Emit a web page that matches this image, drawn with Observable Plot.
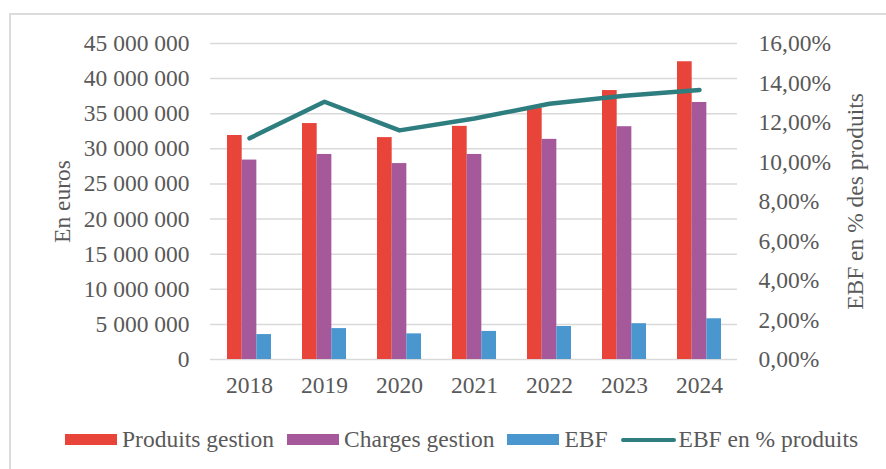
<!DOCTYPE html>
<html>
<head>
<meta charset="utf-8">
<script src="https://cdn.jsdelivr.net/npm/d3@7"></script>
<script src="https://cdn.jsdelivr.net/npm/@observablehq/plot@0.6"></script>
<style>
  body { margin: 0; background: #fff; }
  #wrap { position: relative; width: 886px; height: 469px; overflow: hidden; background: #fff;
          font-family: "Liberation Serif", "Times New Roman", serif; color: #595959; }
  #border { position: absolute; left: 9px; top: 13px; width: 1000px; height: 1000px;
            border-left: 2px solid #dcdcdc; border-top: 2px solid #dcdcdc; }
  #chart { position: absolute; left: 0; top: 0; }
  #legend { position: absolute; left: 65px; top: 426px; display: flex; align-items: center;
            font-size: 23.5px; white-space: nowrap; }
  .item { display: flex; align-items: center; margin-right: 13px; }
  .sw { width: 52px; height: 11px; margin-right: 5px; }
  .ln { width: 55px; height: 4px; border-radius: 2px; margin-right: 3px; }
</style>
</head>
<body>
<div id="wrap">
  <div id="border"></div>
  <div id="chart"></div>
  <div id="legend"></div>
</div>
<script>
const years = ["2018", "2019", "2020", "2021", "2022", "2023", "2024"];
const produits = [31.9e6, 33.6e6, 31.6e6, 33.2e6, 35.8e6, 38.3e6, 42.4e6];
const charges = [28.4e6, 29.2e6, 27.9e6, 29.2e6, 31.35e6, 33.15e6, 36.6e6];
const ebf = [3.55e6, 4.4e6, 3.65e6, 4.0e6, 4.7e6, 5.1e6, 5.8e6];
const ebfPct = [11.2, 13.05, 11.6, 12.2, 12.95, 13.35, 13.65];
const leftTicks = [0, 5e6, 10e6, 15e6, 20e6, 25e6, 30e6, 35e6, 40e6, 45e6];
const rightTicks = [0, 2, 4, 6, 8, 10, 12, 14, 16];
const seriesNames = ["Produits gestion", "Charges gestion", "EBF", "EBF en % produits"];
const colors = ["#E8443A", "#A5589A", "#4A96CF", "#2E7E80"];

const yMax = 45e6, pctMax = 16;
const data = years.map((y, i) => ({year: y, produits: produits[i], charges: charges[i], ebf: ebf[i], pct: ebfPct[i]}));

const fmtEur = v => v === 0 ? "0" : d3.format(",")(v).replace(/,/g, " ");
const fmtPct = v => (Math.round(v * 100) / 100).toFixed(2).replace(".", ",") + "%";
const third = 43.97 / 3;

const chart = Plot.plot({
  width: 886, height: 400,
  marginLeft: 210, marginRight: 149, marginTop: 43, marginBottom: 41,
  style: {fontFamily: '"Liberation Serif", "Times New Roman", serif', fontSize: "23.5px", color: "#595959", background: "transparent", overflow: "visible"},
  x: {domain: years, paddingInner: 0.416, paddingOuter: 0.208, label: null},
  y: {domain: [0, yMax], label: null},
  marks: [
    Plot.gridY(leftTicks, {stroke: "#d9d9d9", strokeOpacity: 1, strokeWidth: 1.5}),
    Plot.axisY(leftTicks, {anchor: "left", tickSize: 0, tickPadding: 21, tickFormat: fmtEur, label: null}),
    Plot.axisY(rightTicks.map(p => p * yMax / pctMax), {anchor: "right", tickSize: 0, tickPadding: 21, tickFormat: v => fmtPct(v * pctMax / yMax), label: null}),
    Plot.axisX({tickSize: 0, tickPadding: 17, label: null}),
    Plot.barY(data, {x: "year", y: "produits", fill: colors[0], insetLeft: 0, insetRight: 2 * third}),
    Plot.barY(data, {x: "year", y: "charges", fill: colors[1], insetLeft: third, insetRight: third}),
    Plot.barY(data, {x: "year", y: "ebf", fill: colors[2], insetLeft: 2 * third, insetRight: 0}),
    Plot.line(data, {x: "year", y: d => d.pct * yMax / pctMax, stroke: colors[3], strokeWidth: 4.5, strokeLinecap: "round", strokeLinejoin: "round"}),
    Plot.text(["En euros"], {frameAnchor: "left", textAnchor: "middle", dx: -148, rotate: -90, fontSize: 23.5, fill: "#595959"}),
    Plot.text(["EBF en % des produits"], {frameAnchor: "right", textAnchor: "middle", dx: 118, rotate: -90, fontSize: 23.5, fill: "#595959"})
  ]
});
document.getElementById("chart").appendChild(chart);

const legend = document.getElementById("legend");
seriesNames.forEach((name, i) => {
  const item = document.createElement("div");
  item.className = "item";
  const sw = document.createElement("div");
  sw.className = i === 3 ? "ln" : "sw";
  sw.style.background = colors[i];
  const t = document.createElement("span");
  t.textContent = name;
  item.appendChild(sw);
  item.appendChild(t);
  legend.appendChild(item);
});
</script>
</body>
</html>
